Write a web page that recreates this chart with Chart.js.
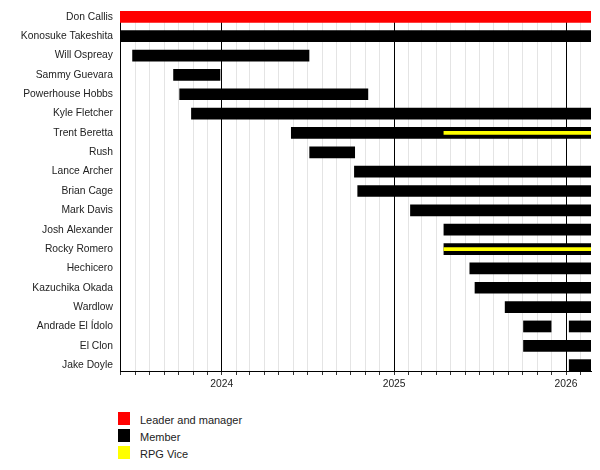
<!DOCTYPE html>
<html><head><meta charset="utf-8">
<script src="https://cdn.jsdelivr.net/npm/chart.js@4.4.1/dist/chart.umd.min.js"></script>
<style>
html,body{margin:0;padding:0;background:#fff;width:600px;height:470px;overflow:hidden;}
#wrap{position:absolute;left:0;top:0;width:600px;height:395px;}
#legend{position:absolute;left:118px;top:410px;font-family:"Liberation Sans",Arial,sans-serif;font-size:11px;color:#222;}
.item{height:17px;display:flex;align-items:flex-start;}
.sw{width:12px;height:13px;margin-top:2px;}
.lt{margin-left:10px;line-height:17px;padding-top:2px;white-space:nowrap;}
</style></head><body>
<div id="wrap"><canvas id="c"></canvas></div>
<div id="legend"></div>
<script>
// ---- data ----
const members = ["Don Callis","Konosuke Takeshita","Will Ospreay","Sammy Guevara","Powerhouse Hobbs","Kyle Fletcher","Trent Beretta","Rush","Lance Archer","Brian Cage","Mark Davis","Josh Alexander","Rocky Romero","Hechicero","Kazuchika Okada","Wardlow","Andrade El Ídolo","El Clon","Jake Doyle"];
const timelineStart = "2023-05-30";
const timelineEnd = "2026-02-23";
const yearTicks = [2024, 2025, 2026];
const seriesNames = ["Leader and manager", "Member", "RPG Vice"];
const seriesColors = ["#ff0000", "#000000", "#ffff00"];
const leaderSpans = [
  ["Don Callis", "2023-05-30", "2026-02-23"]
];
const memberSpans = [
  ["Konosuke Takeshita", "2023-05-30", "2026-02-23"],
  ["Will Ospreay", "2023-06-25", "2024-07-05"],
  ["Sammy Guevara", "2023-09-20", "2023-12-29"],
  ["Powerhouse Hobbs", "2023-10-03", "2024-11-07"],
  ["Kyle Fletcher", "2023-10-28", "2026-02-23"],
  ["Trent Beretta", "2024-05-27", "2026-02-23"],
  ["Rush", "2024-07-05", "2024-10-10"],
  ["Lance Archer", "2024-10-08", "2026-02-23"],
  ["Brian Cage", "2024-10-15", "2026-02-23"],
  ["Mark Davis", "2025-02-04", "2026-02-23"],
  ["Josh Alexander", "2025-04-16", "2026-02-23"],
  ["Rocky Romero", "2025-04-16", "2026-02-23"],
  ["Hechicero", "2025-06-10", "2026-02-23"],
  ["Kazuchika Okada", "2025-06-21", "2026-02-23"],
  ["Wardlow", "2025-08-24", "2026-02-23"],
  ["Andrade El Ídolo", "2025-10-02", "2025-12-01"],
  ["Andrade El Ídolo", "2026-01-07", "2026-02-23"],
  ["El Clon", "2025-10-02", "2026-02-23"],
  ["Jake Doyle", "2026-01-07", "2026-02-23"]
];
const viceSpans = [
  ["Trent Beretta", "2025-04-16", "2026-02-23"],
  ["Rocky Romero", "2025-04-16", "2026-02-23"]
];

// ---- helpers ----
const t = s => Date.parse(s + "T00:00:00Z");
const toPoints = spans => spans.map(([n, a, b]) => ({ x: [t(a), t(b)], y: members.indexOf(n) }));
const FONT = '"Liberation Sans", Arial, sans-serif';

// monthly tick positions across the timeline
function monthTicks() {
  const out = [];
  const s = new Date(t(timelineStart)), e = t(timelineEnd);
  let y = s.getUTCFullYear(), m = s.getUTCMonth() + 1;
  while (true) {
    if (m > 11) { m = 0; y++; }
    const v = Date.UTC(y, m, 1);
    if (v > e) break;
    out.push({ value: v });
    m++;
  }
  return out;
}
const isYear = v => { const d = new Date(v); return d.getUTCMonth() === 0 && yearTicks.includes(d.getUTCFullYear()); };

const datasets = [
  { label: seriesNames[0], data: toPoints(leaderSpans), backgroundColor: seriesColors[0], order: 1, barPercentage: 0.605 },
  { label: seriesNames[1], data: toPoints(memberSpans), backgroundColor: seriesColors[1], order: 1, barPercentage: 0.605 },
  { label: seriesNames[2], data: toPoints(viceSpans), backgroundColor: seriesColors[2], order: 0, barPercentage: 0.19 }
].map(d => Object.assign(d, { grouped: false, categoryPercentage: 1, borderWidth: 0 }));

new Chart(document.getElementById('c'), {
  type: 'bar',
  data: { datasets },
  options: {
    indexAxis: 'y',
    responsive: true,
    maintainAspectRatio: false,
    animation: false,
    layout: { padding: { left: 0, right: 9, top: 11, bottom: 0 } },
    plugins: { legend: { display: false }, tooltip: { enabled: false } },
    scales: {
      x: {
        type: 'linear',
        offset: false,
        min: t(timelineStart),
        max: t(timelineEnd),
        afterBuildTicks: s => { s.ticks = monthTicks(); },
        afterFit: s => { s.height = 24; s.paddingLeft = 0; s.paddingRight = 0; },
        ticks: {
          autoSkip: false, maxRotation: 0, padding: 3,
          color: '#222', font: { family: FONT, size: 10.3 },
          callback: v => isYear(v) ? String(new Date(v).getUTCFullYear()) : ''
        },
        grid: {
          color: ctx => (ctx.tick && isYear(ctx.tick.value)) ? '#000000' : '#e4e4e4',
          tickColor: '#333', tickLength: 4, drawTicks: true, lineWidth: 1
        },
        border: { display: true, color: '#000', width: 1 }
      },
      y: {
        type: 'linear',
        offset: false,
        reverse: true,
        min: -0.3025,
        max: 18.3025,
        afterBuildTicks: s => { s.ticks = members.map((_, i) => ({ value: i })); },
        afterFit: s => { s.width = 120; s.paddingTop = 0; s.paddingBottom = 0; },
        ticks: {
          autoSkip: false, padding: 7,
          color: '#222', font: { family: FONT, size: 10.3 },
          callback: v => members[v] !== undefined ? members[v] : ''
        },
        grid: { display: false, drawTicks: false, offset: false },
        border: { display: true, color: '#000', width: 1 }
      }
    }
  }
});

// legend (HTML, built from the series)
const lg = document.getElementById('legend');
seriesNames.forEach((n, i) => {
  const it = document.createElement('div'); it.className = 'item';
  const sw = document.createElement('div'); sw.className = 'sw'; sw.style.background = seriesColors[i];
  const tx = document.createElement('div'); tx.className = 'lt'; tx.textContent = n;
  it.appendChild(sw); it.appendChild(tx); lg.appendChild(it);
});
</script>
</body></html>
